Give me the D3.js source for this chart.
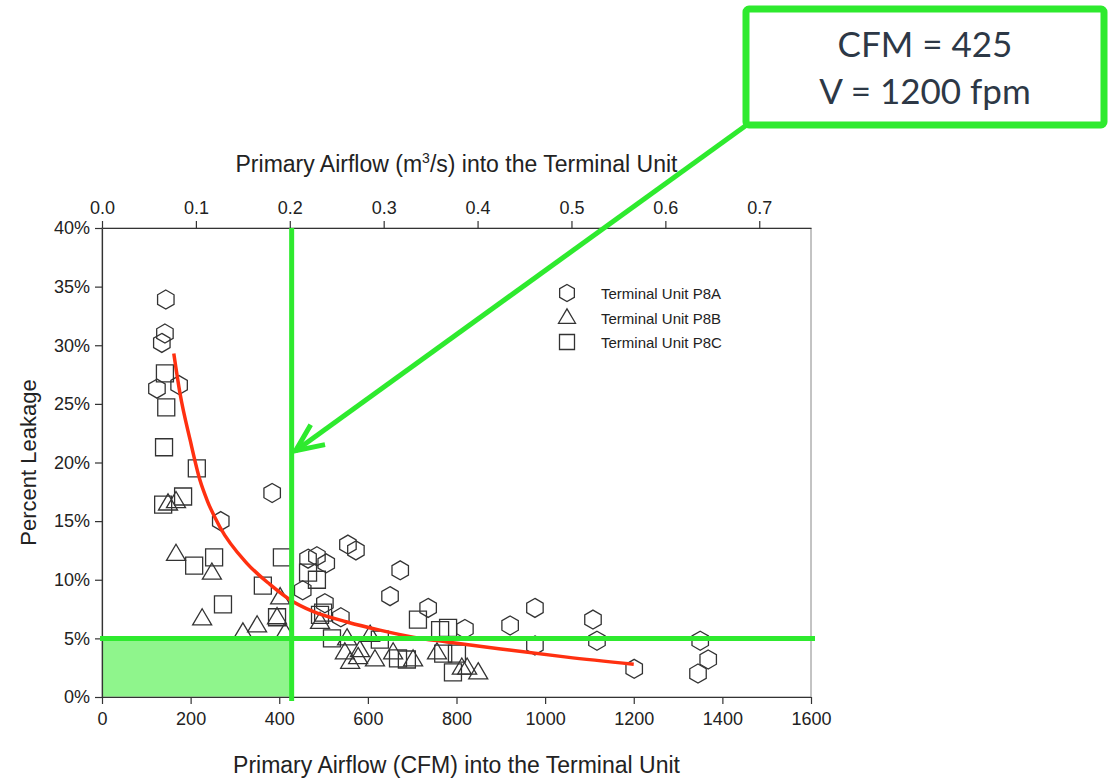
<!DOCTYPE html>
<html>
<head>
<meta charset="utf-8">
<script src="https://cdn.jsdelivr.net/npm/d3@7"></script>
<style>
  body { margin: 0; background: #fff; }
  svg { display: block; }
</style>
</head>
<body>
<div id="chart"></div>
<script>
// ---- datos (CFM, % fuga) ----
const p8aCfm  = [144, 142, 135, 124, 174, 384, 268, 555, 573, 465, 485, 506, 673, 453, 650, 503, 539, 736, 819, 921, 977, 977, 1108, 1117, 1201, 1350, 1368, 1345];
const p8aLeak = [33.9, 31.0, 30.2, 26.3, 26.6, 17.4, 15.0, 13.0, 12.5, 11.8, 12.0, 11.4, 10.8, 9.1, 8.6, 8.0, 6.8, 7.6, 5.8, 6.1, 7.6, 4.4, 6.6, 4.8, 2.4, 4.8, 3.2, 2.0];

const p8bCfm  = [149, 167, 167, 248, 402, 226, 350, 395, 318, 413, 492, 553, 605, 548, 582, 560, 616, 657, 578, 702, 756, 812, 824, 849];
const p8bLeak = [16.5, 16.7, 12.2, 10.6, 8.5, 6.7, 6.1, 6.8, 5.5, 5.5, 6.4, 5.0, 5.3, 3.8, 4.0, 3.0, 3.2, 3.8, 3.4, 3.2, 3.8, 2.5, 2.5, 2.1];

const p8cCfm  = [142, 145, 140, 214, 183, 138, 208, 253, 406, 363, 273, 395, 465, 485, 492, 499, 519, 627, 668, 688, 713, 763, 781, 770, 801, 792];
const p8cLeak = [27.6, 24.7, 21.3, 19.5, 17.1, 16.4, 11.2, 11.9, 11.9, 9.5, 7.9, 6.8, 10.6, 10.0, 7.0, 7.2, 5.0, 4.9, 3.3, 3.2, 6.6, 5.7, 5.9, 3.7, 3.7, 2.1];

// curva de ajuste (roja)
const curveCfm  = [162, 176, 199, 221, 237, 266, 327, 379, 424, 476, 553, 627, 702, 779, 900, 1049, 1200];
const curveLeak = [29.3, 25.9, 21.9, 18.5, 16.8, 14.5, 11.4, 9.6, 8.3, 7.3, 6.4, 5.7, 5.1, 4.7, 4.1, 3.4, 2.8];

const bottomTicks = [0, 200, 400, 600, 800, 1000, 1200, 1400, 1600];
const topTicks    = [0, 0.1, 0.2, 0.3, 0.4, 0.5, 0.6, 0.7];
const leftTicks   = [0, 5, 10, 15, 20, 25, 30, 35, 40];

const seriesNames = ["Terminal Unit P8A", "Terminal Unit P8B", "Terminal Unit P8C"];

const limitCfm  = 428;   // linea vertical verde
const limitLeak = 5;     // linea horizontal verde
const boxLines  = ["CFM = 425", "V = 1200 fpm"];

const CFM_TO_M3S = 0.000471947;

// ---- dibujo ----
const width = 1112, height = 780;
const margin = {top: 228, right: 301, bottom: 83, left: 102};
const green = "#2eea2e";
const ink = "#333";

const svg = d3.select("#chart")
              .append("svg")
              .attr("width", width)
              .attr("height", height)
              .style("font-family", "'Liberation Sans', Arial, sans-serif");

const x = d3.scaleLinear()
            .domain([0, 1600])
            .range([margin.left, width - margin.right]);

const xTop = d3.scaleLinear()
               .domain([0, 1600 * CFM_TO_M3S])
               .range([margin.left, width - margin.right]);

const y = d3.scaleLinear()
            .domain([0, 40])
            .range([height - margin.bottom, margin.top]);

const x0 = x(0), x1 = x(1600), y0 = y(0), y1 = y(40);

// zona sombreada
svg.append("rect")
   .attr("x", x(0))
   .attr("y", y(limitLeak))
   .attr("width", x(limitCfm) - x(0))
   .attr("height", y(0) - y(limitLeak))
   .attr("fill", "#8ff58c");

// marco
svg.append("rect")
   .attr("x", x0).attr("y", y1)
   .attr("width", x1 - x0).attr("height", y0 - y1)
   .attr("fill", "none")
   .attr("stroke", "#888")
   .attr("stroke-width", 1);

// ejes
function estiloEje(g) {
    g.select(".domain").attr("stroke", ink).attr("stroke-width", 1.2);
    g.selectAll(".tick line").attr("stroke", ink).attr("stroke-width", 1.2);
    g.selectAll(".tick text")
     .attr("fill", "#222")
     .style("font-family", "'Liberation Sans Narrow', 'Liberation Sans', Arial, sans-serif")
     .style("font-size", "18px");
}

svg.append("g")
   .attr("transform", `translate(0, ${y0})`)
   .call(d3.axisBottom(x).tickValues(bottomTicks).tickSize(7).tickPadding(8).tickSizeOuter(0)
           .tickFormat(d3.format("d")))
   .call(estiloEje);

svg.append("g")
   .attr("transform", `translate(0, ${y1})`)
   .call(d3.axisTop(xTop).tickValues(topTicks).tickSize(7).tickPadding(7).tickSizeOuter(0)
           .tickFormat(d3.format(".1f")))
   .call(estiloEje);

svg.append("g")
   .attr("transform", `translate(${x0}, 0)`)
   .call(d3.axisLeft(y).tickValues(leftTicks).tickSize(7).tickPadding(5).tickSizeOuter(0)
           .tickFormat(d => d + "%"))
   .call(estiloEje);

// titulos de ejes
svg.append("text")
   .attr("x", (x0 + x1) / 2).attr("y", 773)
   .attr("text-anchor", "middle")
   .attr("fill", "#222")
   .style("font-size", "23px")
   .text("Primary Airflow (CFM) into the Terminal Unit");

const topTitle = svg.append("text")
   .attr("x", (x0 + x1) / 2).attr("y", 172)
   .attr("text-anchor", "middle")
   .attr("fill", "#222")
   .style("font-size", "23px");
topTitle.append("tspan").text("Primary Airflow (m");
topTitle.append("tspan").attr("dy", -9).style("font-size", "14px").text("3");
topTitle.append("tspan").attr("dy", 9).text("/s) into the Terminal Unit");

svg.append("text")
   .attr("transform", `translate(36, ${(y0 + y1) / 2}) rotate(-90)`)
   .attr("text-anchor", "middle")
   .attr("fill", "#222")
   .style("font-size", "22px")
   .text("Percent Leakage");

// simbolos
function hexagono(r) {
    const pts = d3.range(6).map(i => {
        const a = Math.PI / 3 * i - Math.PI / 2;
        return [r * Math.cos(a), r * Math.sin(a)];
    });
    return "M" + pts.map(p => p.join(",")).join("L") + "Z";
}
function triangulo(w) {
    const h = w * 0.85;
    return `M0,${-h * 0.6}L${w / 2},${h * 0.4}L${-w / 2},${h * 0.4}Z`;
}
function cuadrado(s) {
    return `M${-s / 2},${-s / 2}H${s / 2}V${s / 2}H${-s / 2}Z`;
}
const formas = [hexagono(9.5), triangulo(19), cuadrado(17)];
const formasLeyenda = [hexagono(8.5), triangulo(17), cuadrado(15)];

const series = [
    p8aCfm.map((c, i) => ({cfm: c, leak: p8aLeak[i]})),
    p8bCfm.map((c, i) => ({cfm: c, leak: p8bLeak[i]})),
    p8cCfm.map((c, i) => ({cfm: c, leak: p8cLeak[i]}))
];

series.forEach((datos, k) => {
    svg.append("g")
       .selectAll("path")
       .data(datos)
       .enter()
       .append("path")
       .attr("transform", d => `translate(${x(d.cfm)}, ${y(d.leak)})`)
       .attr("d", formas[k])
       .attr("fill", "none")
       .attr("stroke", ink)
       .attr("stroke-width", 1.3);
});

// curva roja
const curva = curveCfm.map((c, i) => ({cfm: c, leak: curveLeak[i]}));
svg.append("path")
   .datum(curva)
   .attr("d", d3.line().x(d => x(d.cfm)).y(d => y(d.leak)).curve(d3.curveMonotoneX))
   .attr("fill", "none")
   .attr("stroke", "#ff3010")
   .attr("stroke-width", 3.5);

// leyenda
const leyenda = svg.append("g").attr("transform", "translate(567, 293)");
seriesNames.forEach((nombre, k) => {
    const fila = leyenda.append("g").attr("transform", `translate(0, ${k * 24.5})`);
    fila.append("path")
        .attr("d", formasLeyenda[k])
        .attr("fill", "none")
        .attr("stroke", ink)
        .attr("stroke-width", 1.3);
    fila.append("text")
        .attr("x", 34).attr("y", 6)
        .attr("fill", "#222")
        .style("font-size", "15px")
        .text(nombre);
});

// lineas verdes
svg.append("line")
   .attr("x1", x(limitCfm)).attr("x2", x(limitCfm))
   .attr("y1", y1).attr("y2", y0 + 4)
   .attr("stroke", green).attr("stroke-width", 5);

svg.append("line")
   .attr("x1", x0 - 2).attr("x2", x1 + 4)
   .attr("y1", y(limitLeak)).attr("y2", y(limitLeak))
   .attr("stroke", green).attr("stroke-width", 5);

// flecha desde el recuadro
const punta = [x(limitCfm) + 4, y(21)];
const cola = [748, 124];
svg.append("line")
   .attr("x1", cola[0]).attr("y1", cola[1])
   .attr("x2", punta[0]).attr("y2", punta[1])
   .attr("stroke", green).attr("stroke-width", 5);

const ang = Math.atan2(cola[1] - punta[1], cola[0] - punta[0]);
const largo = 30;
const alas = [ang + 0.42, ang - 0.42].map(a => [punta[0] + largo * Math.cos(a), punta[1] + largo * Math.sin(a)]);
svg.append("path")
   .attr("d", `M${alas[0][0]},${alas[0][1]}L${punta[0]},${punta[1]}L${alas[1][0]},${alas[1][1]}`)
   .attr("fill", "none")
   .attr("stroke", green)
   .attr("stroke-width", 5)
   .attr("stroke-linejoin", "miter");

// recuadro
svg.append("rect")
   .attr("x", 746).attr("y", 9)
   .attr("width", 358).attr("height", 116)
   .attr("rx", 3)
   .attr("fill", "#fff")
   .attr("stroke", green)
   .attr("stroke-width", 7);

boxLines.forEach((t, i) => {
    svg.append("text")
       .attr("x", 925).attr("y", 57 + i * 47)
       .attr("text-anchor", "middle")
       .attr("fill", "#2d3846")
       .style("font-family", "Lato, 'Open Sans', sans-serif")
       .style("font-size", "35px")
       .text(t);
});
</script>
</body>
</html>
